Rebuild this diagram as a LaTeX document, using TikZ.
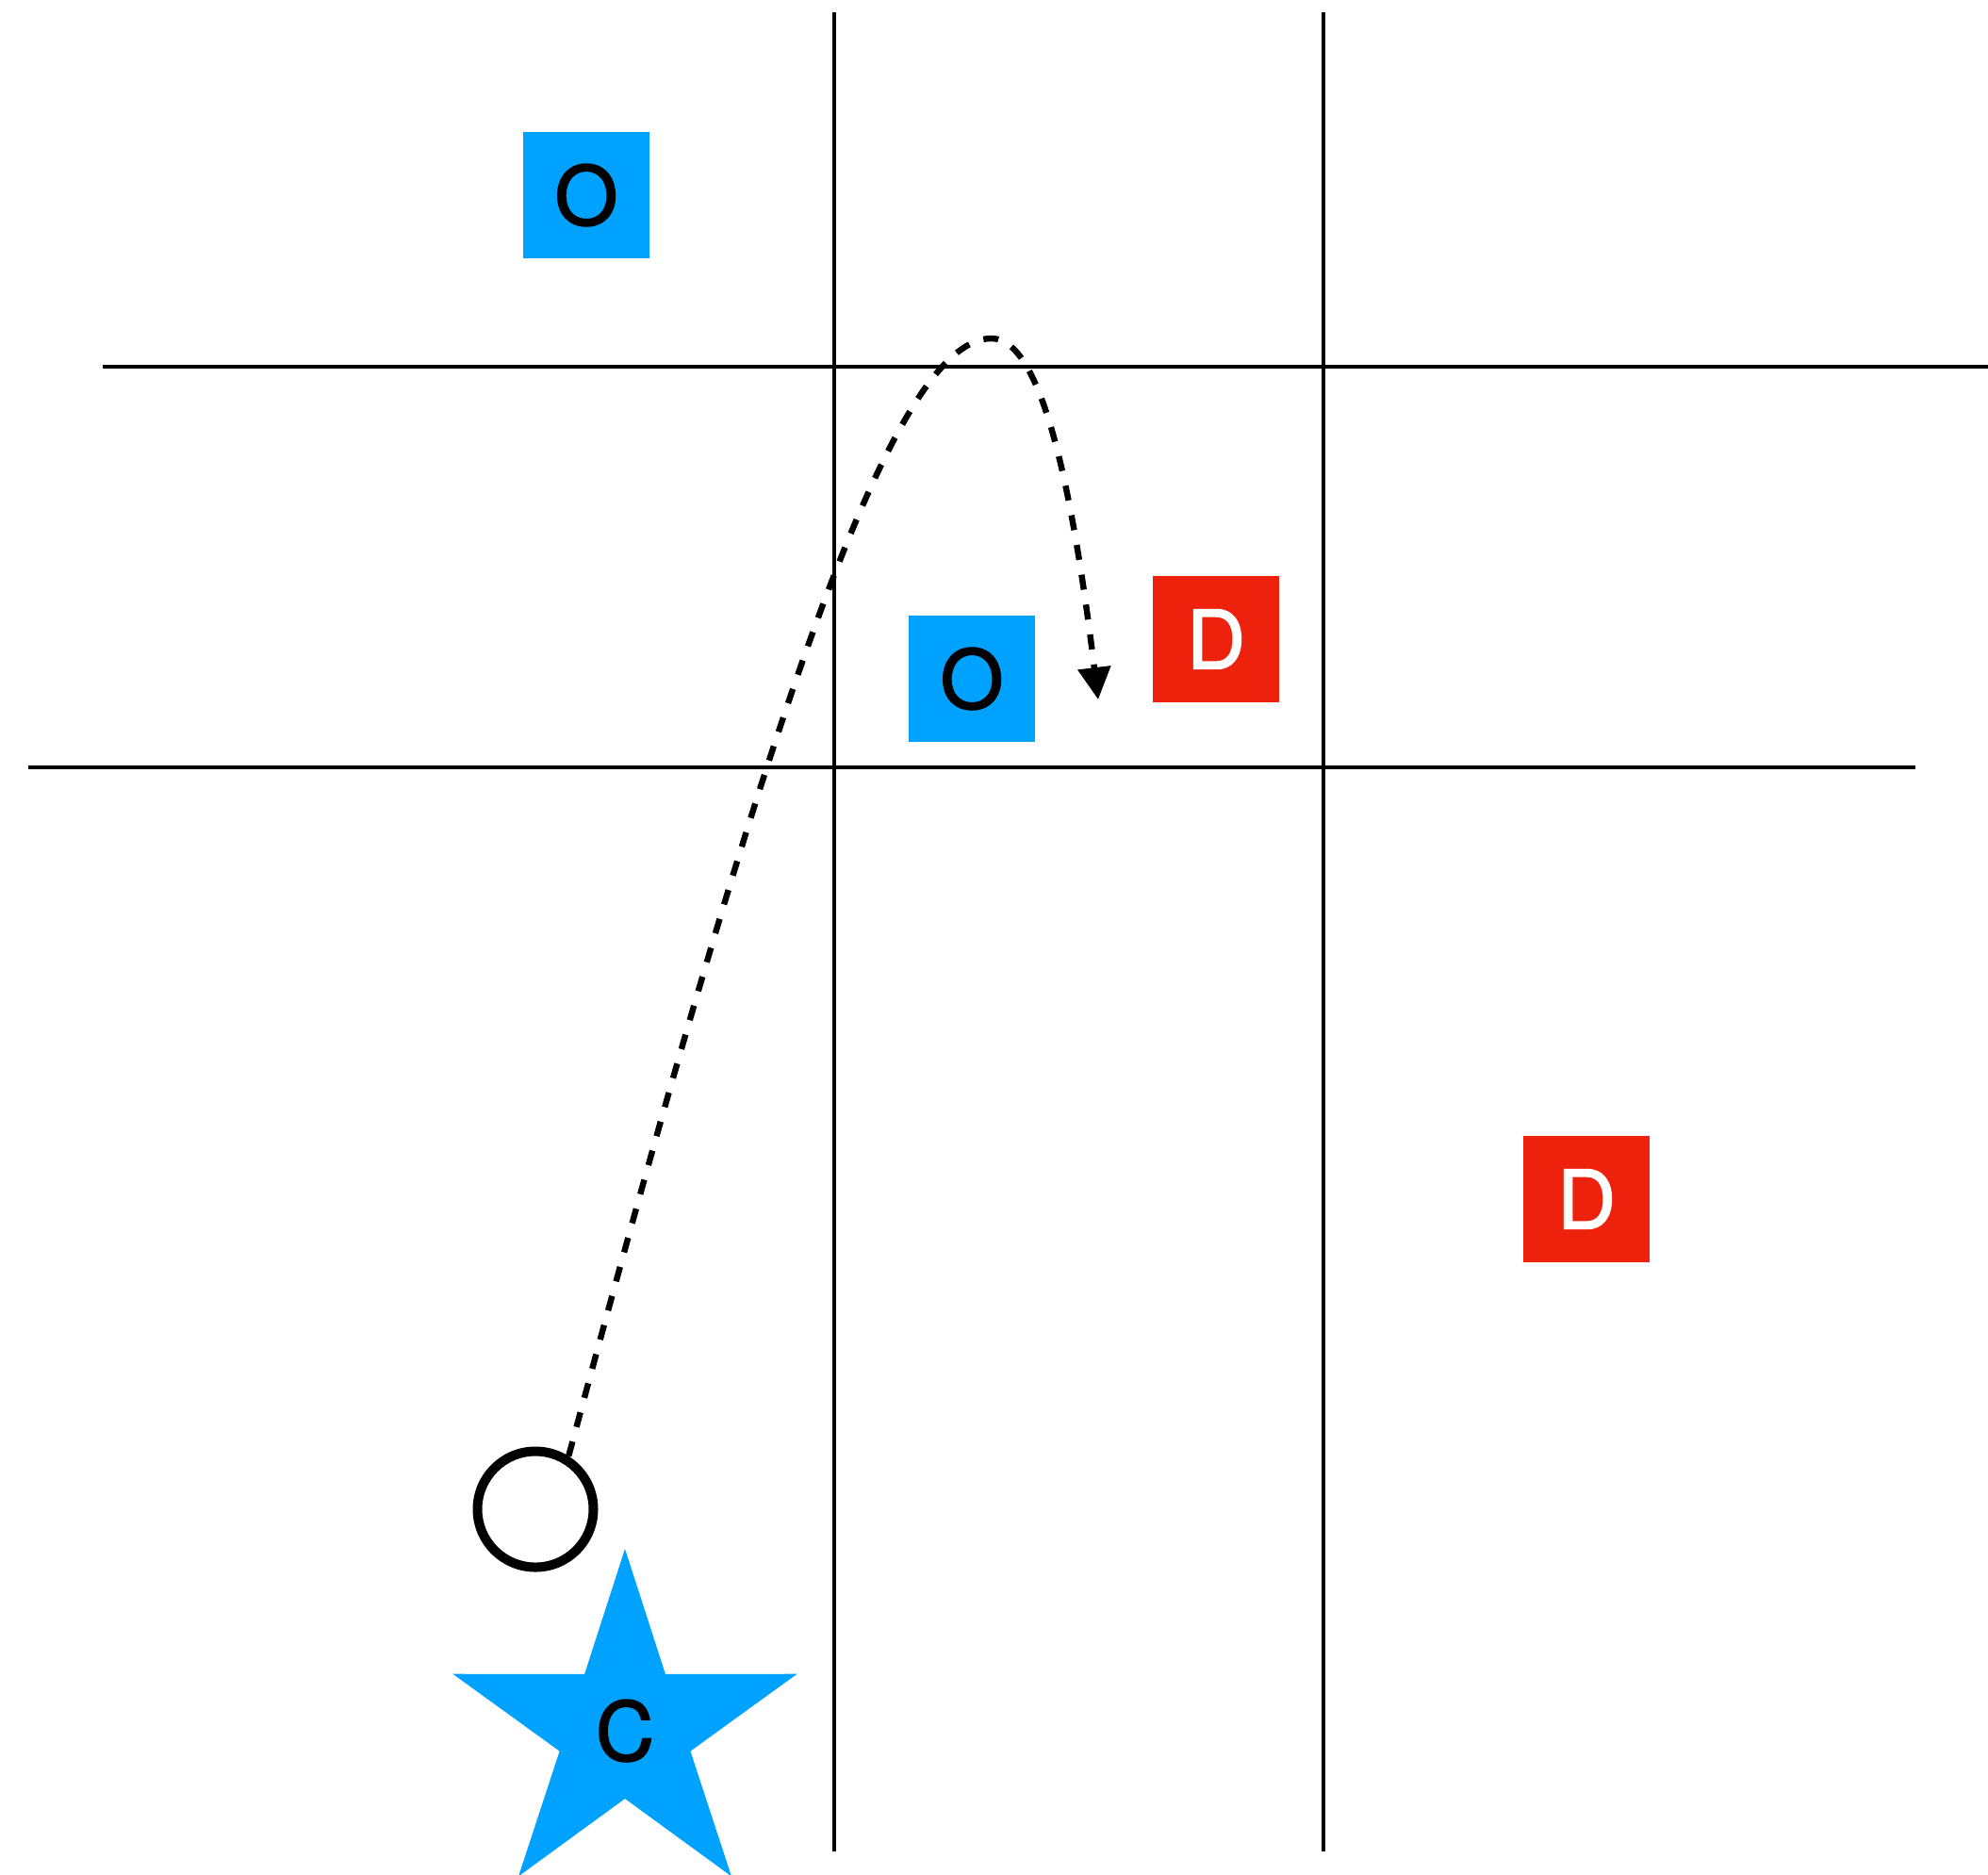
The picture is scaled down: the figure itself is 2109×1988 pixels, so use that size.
\documentclass[tikz,border=0pt]{standalone}
\usepackage{fontspec}
\setmainfont{TeX Gyre Heros}
\newfontfamily\labelfont[FakeBold=2]{TeX Gyre Heros}
\usetikzlibrary{arrows.meta}
\definecolor{keyblue}{RGB}{0,162,255}
\definecolor{keyred}{RGB}{238,34,12}
\tikzset{
  gridline/.style={line width=2.1pt, black},
  obox/.style={rectangle, fill=keyblue, minimum size=67pt, inner sep=0pt, outer sep=0pt, text=black, font=\labelfont\fontsize{43}{43}\selectfont},
  dbox/.style={rectangle, fill=keyred, minimum size=67pt, inner sep=0pt, outer sep=0pt, text=white, font=\labelfont\fontsize{43}{43}\selectfont},
  ringnode/.style={circle, draw=black, line width=5pt, minimum size=61.5pt, inner sep=0pt, fill=white},
  flow/.style={line width=3.2pt, dash pattern=on 8pt off 8pt, -{Triangle[length=17pt,width=17pt]}},
}
\begin{document}
\begin{tikzpicture}[x=0.5pt, y=-0.5pt]
\useasboundingbox (0,0) rectangle (2109,1988);
\fill[white] (0,0) rectangle (2109,1988);
% grid lines
\coordinate (v1t) at (885,13);
\coordinate (v1b) at (885,1964);
\coordinate (v2t) at (1404,13);
\coordinate (v2b) at (1404,1964);
\coordinate (h1l) at (109,389);
\coordinate (h1r) at (2109,389);
\coordinate (h2l) at (30,814);
\coordinate (h2r) at (2032,814);
\draw[gridline] (v1t) -- (v1b);
\draw[gridline] (v2t) -- (v2b);
\draw[gridline] (h1l) -- (h1r);
\draw[gridline] (h2l) -- (h2r);
% boxes
\node[obox] (o1) at (622,207) {O};
\node[obox] (o2) at (1031,720) {O};
\node[dbox] (d1) at (1290,678) {D};
\node[dbox] (d2) at (1683,1272) {D};
% star
\fill[keyblue] (663,1643) -- (705.9,1775.9) -- (845.6,1775.7) -- (732.4,1857.6) -- (775.9,1990.3)
  -- (663,1908) -- (550.1,1990.3) -- (593.6,1857.6) -- (480.4,1775.7) -- (620.1,1775.9) -- cycle;
\node[inner sep=0pt, font=\labelfont\fontsize{43}{43}\selectfont] (c) at (663,1836) {C};
% circle
\node[ringnode] (ring) at (568,1601) {};
% path
\coordinate (c1) at (819,742);
\coordinate (c2) at (948,359);
\coordinate (peak) at (1052,359);
\coordinate (c3) at (1108,359);
\coordinate (c4) at (1140,538);
\coordinate (tip) at (1165,742);
\draw[flow] (ring.58) .. controls (c1) and (c2) .. (peak) .. controls (c3) and (c4) .. (tip);
\end{tikzpicture}
\end{document}
